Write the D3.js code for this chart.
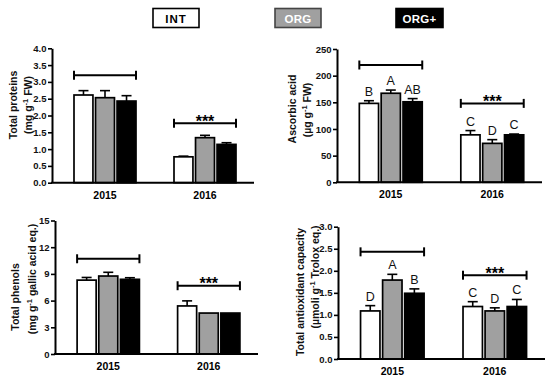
<!DOCTYPE html>
<html>
<head>
<meta charset="utf-8">
<script src="https://cdn.jsdelivr.net/npm/d3@7"></script>
<style>
body { margin: 0; background: #fff; }
svg { font-family: "Liberation Sans", Arial, sans-serif; }
</style>
</head>
<body>
<svg id="chart" width="550" height="382"></svg>
<script>
var years = ['2015', '2016'];
var treatments = ['INT', 'ORG', 'ORG+'];
var treatmentFill = ['#ffffff', '#a0a0a0', '#000000'];

// means per year (rows) and treatment (columns), with upper error bars
var proteins = [[2.61, 2.53, 2.43], [0.77, 1.34, 1.14]];
var proteinsErr = [[0.13, 0.21, 0.16], [0.02, 0.07, 0.05]];
var proteinsTicks = [0, 0.5, 1, 1.5, 2, 2.5, 3, 3.5, 4];
var proteinsBrackets = [3.2, 1.77];

var ascorbic = [[148, 167, 151], [89, 73, 89]];
var ascorbicErr = [[5, 6, 6], [8, 7, 1.5]];
var ascorbicLetters = [['B', 'A', 'AB'], ['C', 'D', 'C']];
var ascorbicTicks = [0, 50, 100, 150, 200, 250];
var ascorbicBrackets = [220, 148];

var phenols = [[8.3, 8.76, 8.39], [5.4, 4.6, 4.6]];
var phenolsErr = [[0.3, 0.42, 0.18], [0.57, 0, 0]];
var phenolsTicks = [0, 3, 6, 9, 12, 15];
var phenolsBrackets = [10.7, 7.67];

var antiox = [[1.09, 1.79, 1.49], [1.19, 1.09, 1.19]];
var antioxErr = [[0.12, 0.13, 0.1], [0.11, 0.07, 0.16]];
var antioxLetters = [['D', 'A', 'B'], ['C', 'D', 'C']];
var antioxTicks = [0, 0.5, 1, 1.5, 2, 2.5, 3];
var antioxBrackets = [2.43, 1.9];

var yearStars = ['', '***'];

var svg = d3.select('#chart');

var panels = [
    {mean: proteins, err: proteinsErr, ticks: proteinsTicks, brackets: proteinsBrackets, fmt: d3.format('.1f'),
     left: 52, right: 254, top: 48.3, bottom: 182.7,
     title: [{text: 'Total proteins', x: 17, y: 105}, {text: '(mg g', sup: '-1', rest: ' FW)', x: 32, y: 105}]},
    {mean: ascorbic, err: ascorbicErr, letters: ascorbicLetters, ticks: ascorbicTicks, brackets: ascorbicBrackets, fmt: d3.format('d'),
     left: 337, right: 542, top: 49, bottom: 182.3,
     title: [{text: 'Ascorbic acid', x: 295.5, y: 109}, {text: '(\u00b5g g', sup: '-1', rest: ' FW)', x: 310.5, y: 110}]},
    {mean: phenols, err: phenolsErr, ticks: phenolsTicks, brackets: phenolsBrackets, fmt: d3.format('d'),
     left: 55, right: 258, top: 220.5, bottom: 354,
     title: [{text: 'Total phenols', x: 19, y: 297}, {text: '(mg g', sup: '-1', rest: ' gallic acid eq.)', x: 35.5, y: 279}]},
    {mean: antiox, err: antioxErr, letters: antioxLetters, ticks: antioxTicks, brackets: antioxBrackets, fmt: d3.format('.1f'),
     left: 338, right: 545, top: 226.7, bottom: 359,
     title: [{text: 'Total antioxidant capacity', x: 304, y: 292}, {text: '(\u00b5moli g', sup: '-1', rest: ' Trolox eq.)', x: 319, y: 277}]}
];

panels.forEach(function(p) { drawPanel(p); });
drawLegend();

function drawPanel(p) {
    var g = svg.append('g');
    var x = d3.scaleBand().domain(years).range([p.left, p.right])
        .paddingInner(0.38).paddingOuter(0.2).align(0.55);
    var xs = d3.scaleBand().domain(treatments).range([0, x.bandwidth()]).paddingInner(0.12);
    var y = d3.scaleLinear().domain([p.ticks[0], p.ticks[p.ticks.length - 1]]).range([p.bottom, p.top]);

    var cells = [];
    years.forEach(function(yr, i) {
        treatments.forEach(function(t, j) {
            cells.push({year: yr, t: t, j: j, v: p.mean[i][j], e: p.err[i][j],
                        letter: p.letters ? p.letters[i][j] : ''});
        });
    });
    var cx = function(d) { return x(d.year) + xs(d.t) + xs.bandwidth() / 2; };

    // bars
    g.selectAll('rect.bar').data(cells).enter().append('rect')
        .attr('class', 'bar')
        .attr('x', function(d) { return x(d.year) + xs(d.t); })
        .attr('y', function(d) { return y(d.v); })
        .attr('width', xs.bandwidth())
        .attr('height', function(d) { return y(0) - y(d.v); })
        .attr('fill', function(d) { return treatmentFill[d.j]; })
        .attr('stroke', '#000')
        .attr('stroke-width', 1.7);

    // upper error bars
    var eb = g.selectAll('g.err').data(cells.filter(function(d) { return d.e > 0; })).enter().append('g')
        .attr('class', 'err');
    eb.append('line')
        .attr('x1', cx).attr('x2', cx)
        .attr('y1', function(d) { return y(d.v); })
        .attr('y2', function(d) { return y(d.v + d.e); });
    eb.append('line')
        .attr('x1', function(d) { return cx(d) - 5; })
        .attr('x2', function(d) { return cx(d) + 5; })
        .attr('y1', function(d) { return y(d.v + d.e); })
        .attr('y2', function(d) { return y(d.v + d.e); });
    eb.selectAll('line').attr('stroke', '#000').attr('stroke-width', 1.6);

    // letters of significance groups
    g.selectAll('text.letter').data(cells.filter(function(d) { return d.letter; })).enter().append('text')
        .attr('class', 'letter')
        .attr('x', cx)
        .attr('y', function(d) { return y(d.v + d.e) - 5; })
        .attr('text-anchor', 'middle')
        .attr('font-size', 12.5)
        .attr('fill', '#111')
        .text(function(d) { return d.letter; });

    // brackets over each year
    years.forEach(function(yr, i) {
        var by = y(p.brackets[i]), x0 = x(yr), x1 = x(yr) + x.bandwidth();
        var b = g.append('g').attr('stroke', '#000').attr('stroke-width', 2);
        b.append('line').attr('x1', x0).attr('x2', x1).attr('y1', by).attr('y2', by);
        b.append('line').attr('x1', x0).attr('x2', x0).attr('y1', by - 4.5).attr('y2', by + 4.5);
        b.append('line').attr('x1', x1).attr('x2', x1).attr('y1', by - 4.5).attr('y2', by + 4.5);
        if (yearStars[i]) {
            g.append('text')
                .attr('x', (x0 + x1) / 2).attr('y', by + 3.5)
                .attr('text-anchor', 'middle')
                .attr('font-size', 16).attr('font-weight', 'bold')
                .text(yearStars[i]);
        }
    });

    // axes
    var ax = g.append('g')
        .attr('transform', 'translate(' + p.left + ',0)')
        .call(d3.axisLeft(y).tickValues(p.ticks).tickFormat(p.fmt).tickSize(4).tickSizeOuter(0).tickPadding(1.5));
    ax.select('.domain').attr('stroke-width', 2);
    ax.selectAll('.tick line').attr('stroke-width', 1.6);
    ax.selectAll('.tick text').attr('font-size', 9.5).attr('font-weight', 'bold')
        .attr('font-family', '"Liberation Sans", Arial, sans-serif').attr('fill', '#111');

    g.append('line')
        .attr('x1', p.left - 1).attr('x2', p.right)
        .attr('y1', y(0)).attr('y2', y(0))
        .attr('stroke', '#000').attr('stroke-width', 2);

    g.selectAll('text.year').data(years).enter().append('text')
        .attr('class', 'year')
        .attr('x', function(d) { return x(d) + x.bandwidth() / 2; })
        .attr('y', p.bottom + 16)
        .attr('text-anchor', 'middle')
        .attr('font-size', 10.5).attr('font-weight', 'bold')
        .text(function(d) { return d; });

    // two-line rotated y title
    p.title.forEach(function(line) {
        var t = g.append('text')
            .attr('transform', 'translate(' + line.x + ',' + line.y + ') rotate(-90)')
            .attr('text-anchor', 'middle')
            .attr('font-size', 10.5).attr('font-weight', 'bold')
            .attr('fill', '#111');
        t.append('tspan').text(line.text);
        if (line.sup) {
            t.append('tspan').attr('dy', -4).attr('font-size', 7.5).text(line.sup);
            t.append('tspan').attr('dy', 4).text(line.rest);
        }
    });
}

function drawLegend() {
    var boxes = [
        {x: 153, w: 46, fill: treatmentFill[0], stroke: '#000', color: '#000'},
        {x: 275, w: 46, fill: treatmentFill[1], stroke: '#444', color: '#fff'},
        {x: 396, w: 47, fill: treatmentFill[2], stroke: '#000', color: '#fff'}
    ];
    var lg = svg.append('g').selectAll('g').data(treatments).enter().append('g');
    lg.append('rect')
        .attr('x', function(d, i) { return boxes[i].x; })
        .attr('y', 8.5).attr('width', function(d, i) { return boxes[i].w; }).attr('height', 19)
        .attr('fill', function(d, i) { return boxes[i].fill; })
        .attr('stroke', function(d, i) { return boxes[i].stroke; })
        .attr('stroke-width', 1.6);
    lg.append('text')
        .attr('x', function(d, i) { return boxes[i].x + boxes[i].w / 2; })
        .attr('y', 22.5)
        .attr('text-anchor', 'middle')
        .attr('font-size', 11.5).attr('font-weight', 'bold')
        .attr('letter-spacing', function(d, i) { return i === 0 ? 1 : 0.3; })
        .attr('fill', function(d, i) { return boxes[i].color; })
        .text(function(d) { return d; });
}
</script>
</body>
</html>
